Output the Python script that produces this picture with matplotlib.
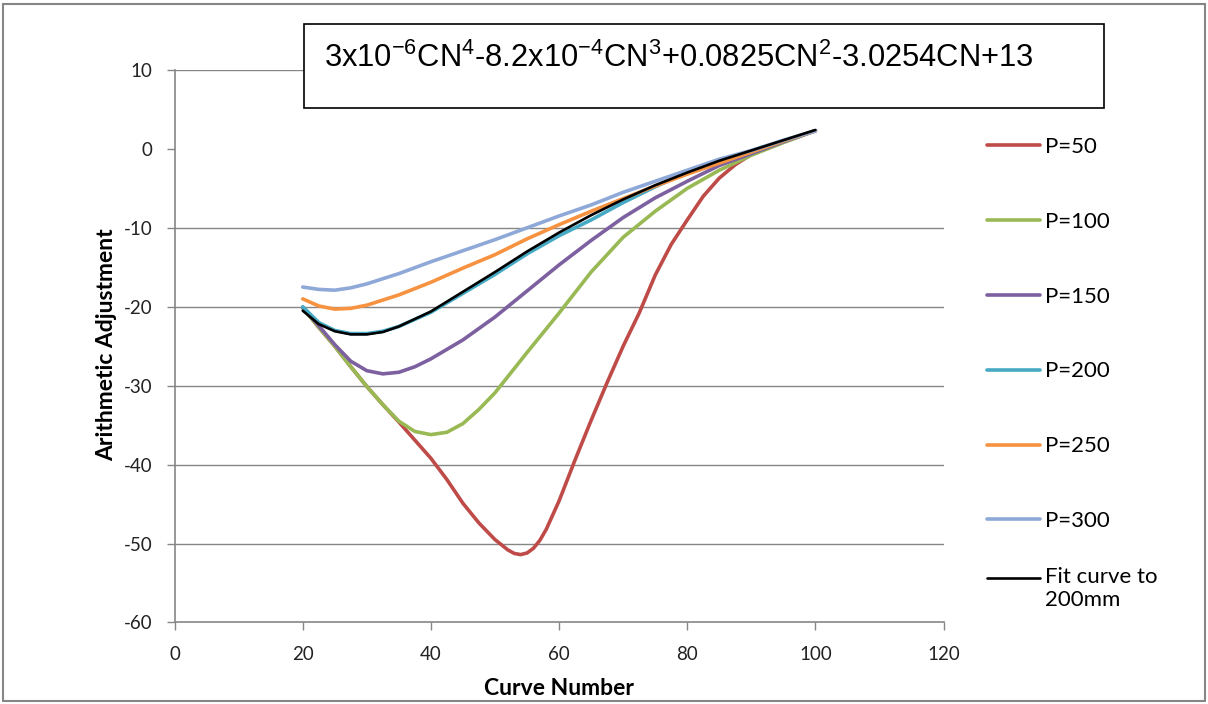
import matplotlib
matplotlib.use("Agg")
import matplotlib.pyplot as plt
from matplotlib.patches import Rectangle
from matplotlib.legend_handler import HandlerLine2D

# ---- data ----
cn_p300 = [20, 22.5, 25, 27.5, 30, 35, 40, 45, 50, 55, 60, 65, 70, 75, 80, 85, 90, 95, 100]
p300 = [-17.5, -17.8, -17.9, -17.6, -17.1, -15.8, -14.3, -12.9, -11.5, -10.0, -8.5, -7.1, -5.5, -4.1, -2.7, -1.3, -0.2, 1.1, 2.3]

cn_p250 = [20, 22.5, 25, 27.5, 30, 35, 40, 45, 50, 55, 60, 65, 70, 75, 80, 85, 90, 95, 100]
p250 = [-19.0, -19.9, -20.3, -20.2, -19.8, -18.5, -16.9, -15.1, -13.4, -11.4, -9.6, -7.9, -6.3, -4.7, -3.2, -1.8, -0.4, 1.0, 2.3]

cn_p200 = [20, 22.5, 25, 27.5, 30, 32.5, 35, 40, 45, 50, 55, 60, 65, 70, 75, 80, 85, 90, 95, 100]
p200 = [-20.0, -22.0, -23.0, -23.4, -23.4, -23.1, -22.5, -20.7, -18.3, -15.9, -13.3, -11.0, -9.0, -6.8, -4.8, -3.0, -1.6, -0.4, 1.0, 2.3]

cn_fit = [20, 22.5, 25, 27.5, 30, 32.5, 35, 40, 45, 50, 55, 60, 65, 70, 75, 80, 85, 90, 95, 100]
fit200 = [-20.5, -22.2, -23.1, -23.5, -23.5, -23.2, -22.5, -20.6, -18.1, -15.6, -13.0, -10.6, -8.4, -6.4, -4.6, -3.0, -1.5, -0.2, 1.1, 2.4]

cn_p150 = [20, 22.5, 25, 27.5, 30, 32.5, 35, 37.5, 40, 45, 50, 55, 60, 65, 70, 75, 80, 85, 90, 95, 100]
p150 = [-20.1, -22.4, -24.8, -26.9, -28.1, -28.5, -28.3, -27.6, -26.6, -24.2, -21.3, -18.0, -14.7, -11.6, -8.7, -6.2, -4.1, -2.1, -0.6, 0.9, 2.3]

cn_p100 = [20, 22.5, 25, 27.5, 30, 32.5, 35, 37.5, 40, 42.5, 45, 47.5, 50, 55, 60, 65, 70, 75, 80, 85, 90, 95, 100]
p100 = [-20.1, -22.6, -25.0, -27.6, -30.1, -32.4, -34.5, -35.8, -36.2, -35.9, -34.8, -33.0, -30.9, -25.8, -20.8, -15.6, -11.2, -7.9, -5.0, -2.7, -0.8, 0.8, 2.3]

cn_p50 = [20, 22.5, 25, 27.5, 30, 32.5, 35, 37.5, 40, 42.5, 45, 47.5, 50, 52, 53, 54, 55, 56, 57, 58, 60, 62.5, 65, 67.5, 70, 72.5, 75, 77.5, 80, 82.5, 85, 87.5, 90, 95, 100]
p50 = [-20.1, -22.6, -25.0, -27.6, -30.1, -32.4, -34.6, -36.9, -39.2, -41.9, -44.9, -47.4, -49.5, -50.8, -51.25, -51.4, -51.2, -50.6, -49.6, -48.2, -44.6, -39.4, -34.4, -29.6, -25.0, -20.8, -16.0, -12.1, -9.0, -6.0, -3.7, -2.0, -0.7, 0.9, 2.3]

series_labels = ["P=50", "P=100", "P=150", "P=200", "P=250", "P=300", "Fit curve to\n200mm"]
x_ticks = [0, 20, 40, 60, 80, 100, 120]
y_ticks = [10, 0, -10, -20, -30, -40, -50, -60]
equation = r"3x10$^{-6}$CN$^{4}$-8.2x10$^{-4}$CN$^{3}$+0.0825CN$^{2}$-3.0254CN+13"

# ---- styling ----
colors = ["#BE4B48", "#98B954", "#7D60A0", "#46AAC5", "#F69240", "#8EA9D8", "#000000"]
grid_col = "#868686"
plt.rcParams["font.family"] = ["Lato", "DejaVu Sans"]
plt.rcParams["axes.unicode_minus"] = False
plt.rcParams["mathtext.fontset"] = "custom"
plt.rcParams["mathtext.rm"] = "Liberation Sans"
plt.rcParams["mathtext.it"] = "Liberation Sans"


class RaisedLine(HandlerLine2D):
    """Legend handle lifted to the first text line of a two-line label."""
    def __init__(self, lift, **kw):
        super().__init__(**kw)
        self.lift = lift

    def create_artists(self, legend, orig_handle, xdescent, ydescent, width,
                       height, fontsize, trans):
        arts = super().create_artists(legend, orig_handle, xdescent, ydescent,
                                      width, height, fontsize, trans)
        for a in arts:
            yd = a.get_ydata()
            a.set_ydata([v + self.lift for v in yd])
        return arts


fig = plt.figure(figsize=(12.08, 7.04), dpi=100)
ax = fig.add_axes([0.1445, 0.1158, 0.6366, 0.7848])

xs = [cn_p50, cn_p100, cn_p150, cn_p200, cn_p250, cn_p300, cn_fit]
ys = [p50, p100, p150, p200, p250, p300, fit200]
lines = []
for i, (x, y) in enumerate(zip(xs, ys)):
    lw = 1.9 if i == 6 else 2.6
    ln, = ax.plot(x, y, color=colors[i], lw=lw, label=series_labels[i],
                  solid_capstyle="round", solid_joinstyle="round", zorder=3 + i)
    lines.append(ln)

ax.set_xlim(0, 120)
ax.set_ylim(-60, 10)
ax.set_xticks(x_ticks)
ax.set_yticks(y_ticks)
for yv in y_ticks:
    if yv != 0 and yv != -60:
        ax.axhline(yv, color=grid_col, lw=1.0, zorder=1)

for s in ["top", "right"]:
    ax.spines[s].set_visible(False)
for s in ["left", "bottom"]:
    ax.spines[s].set_color(grid_col)
    ax.spines[s].set_linewidth(1.2)
ax.tick_params(axis="both", direction="out", length=6, width=1.0, color=grid_col,
               labelsize=13.5, labelcolor="#222222")
ax.tick_params(axis="x", pad=11)
ax.tick_params(axis="y", pad=10)

ax.set_xlabel("Curve Number", fontsize=16.5, fontweight="bold", va="center")
ax.xaxis.set_label_coords(0.5, -0.1186)
ax.set_ylabel("Arithmetic Adjustment", fontsize=16.5, fontweight="bold", va="center")
ax.yaxis.set_label_coords(-0.088, 0.503)

leg_fs = 16
leg1 = ax.legend(lines[:6], series_labels[:6], loc="upper left",
                 bbox_to_anchor=(1.057, 0.879), frameon=False,
                 fontsize=leg_fs, handlelength=2.35, handletextpad=0.22,
                 labelspacing=2.47, borderaxespad=0, borderpad=0)
ax.add_artist(leg1)
leg2 = ax.legend([lines[6]], [series_labels[6]], loc="upper left",
                 bbox_to_anchor=(1.057, 0.1), frameon=False,
                 fontsize=leg_fs, handlelength=2.35, handletextpad=0.22,
                 borderaxespad=0, borderpad=0,
                 handler_map={lines[6]: RaisedLine(lift=0.5 * leg_fs)})

# equation text box
fig.text(324 / 1208, 1 - 58 / 704, equation, fontsize=22.2, family="Liberation Sans",
         va="center", ha="left", zorder=20)
fig.patches.append(Rectangle((304 / 1208, 1 - 108 / 704), 800 / 1208, 84 / 704,
                             transform=fig.transFigure, facecolor="white",
                             edgecolor="black", lw=1.2, zorder=15))

# outer chart border
fig.patches.append(Rectangle((3 / 1208, 3 / 704), 1202 / 1208, 697 / 704,
                             transform=fig.transFigure, facecolor="none",
                             edgecolor=grid_col, lw=1.5, zorder=30))

fig.savefig("out.png", dpi=100)
